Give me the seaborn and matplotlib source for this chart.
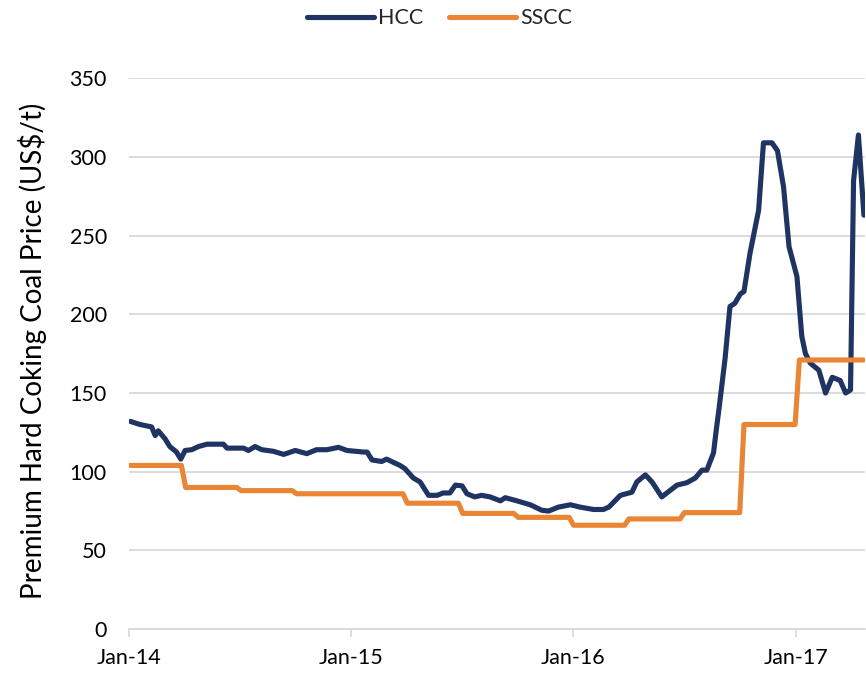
import matplotlib
matplotlib.use("Agg")
import matplotlib.pyplot as plt
import seaborn as sns
import pandas as pd

# ---- data ----
hcc_dates = [
    "2014-01-03", "2014-01-19", "2014-02-07", "2014-02-13", "2014-02-18", "2014-03-01",
    "2014-03-09", "2014-03-20", "2014-03-27", "2014-04-03", "2014-04-14", "2014-04-25",
    "2014-05-09", "2014-06-05", "2014-06-11", "2014-07-08", "2014-07-16", "2014-07-27",
    "2014-08-07", "2014-08-26", "2014-09-12", "2014-10-01", "2014-10-20", "2014-11-05",
    "2014-11-22", "2014-12-11", "2014-12-25", "2015-01-21", "2015-01-27", "2015-02-04",
    "2015-02-20", "2015-02-28", "2015-03-22", "2015-03-30", "2015-04-13", "2015-04-24",
    "2015-05-08", "2015-05-22", "2015-06-01", "2015-06-12", "2015-06-21", "2015-07-02",
    "2015-07-10", "2015-07-23", "2015-08-03", "2015-08-17", "2015-09-03", "2015-09-11",
    "2015-09-30", "2015-10-22", "2015-11-10", "2015-11-21", "2015-12-07", "2015-12-27",
    "2016-01-12", "2016-02-03", "2016-02-19", "2016-02-28", "2016-03-18", "2016-04-06",
    "2016-04-14", "2016-04-28", "2016-05-09", "2016-05-25", "2016-06-19", "2016-07-05",
    "2016-07-19", "2016-07-30", "2016-08-07", "2016-08-18", "2016-08-22", "2016-08-27",
    "2016-09-06", "2016-09-14", "2016-09-22", "2016-10-01", "2016-10-07", "2016-10-17",
    "2016-10-31", "2016-11-08", "2016-11-22", "2016-12-01", "2016-12-11", "2016-12-20",
    "2017-01-02", "2017-01-10", "2017-01-16", "2017-01-24", "2017-02-07", "2017-02-18",
    "2017-03-01", "2017-03-14", "2017-03-23", "2017-03-31", "2017-04-05", "2017-04-13",
    "2017-04-22",
]
hcc_values = [
    132, 130, 128.5, 123, 126, 121,
    116, 112.5, 108, 113.5, 114, 116,
    117.5, 117.5, 115, 115, 113.5, 116,
    114, 113, 111, 113.5, 111.5, 114,
    114, 115.5, 113.5, 112.5, 112.5, 107.5,
    106.5, 108, 104, 102, 96, 93.5,
    85, 85, 86.5, 86.5, 91.5, 91,
    86, 84, 85, 84, 81.5, 83.5,
    81.5, 79, 75.5, 75, 77.5, 79,
    77.5, 76, 76, 77.5, 85, 87,
    93.5, 98, 93.5, 84, 91.5, 93,
    96, 101, 101, 112, 125, 140,
    172, 205, 207, 213, 214.5, 239,
    266, 309, 309, 304, 281, 243,
    224, 186, 175, 169, 164.5, 150,
    160, 158, 150, 152, 285, 314,
    263,
]

# SSCC quarterly settlement values (US$/t)
sscc_quarters = ["2014Q1", "2014Q2", "2014Q3", "2014Q4",
                 "2015Q1", "2015Q2", "2015Q3", "2015Q4",
                 "2016Q1", "2016Q2", "2016Q3", "2016Q4",
                 "2017Q1", "2017Q2"]
sscc_values = [104, 90, 88, 86,
               86, 80, 73.5, 71,
               66, 70, 74, 130,
               171, 171]

x_ticks = ["2014-01-01", "2015-01-01", "2016-01-01", "2017-01-01"]
x_tick_labels = ["Jan-14", "Jan-15", "Jan-16", "Jan-17"]
y_ticks = [0, 50, 100, 150, 200, 250, 300, 350]

# ---- build frames ----
hcc_df = pd.DataFrame({"date": pd.to_datetime(hcc_dates), "price": hcc_values,
                       "series": "HCC"})
weeks = pd.date_range("2014-01-03", "2017-04-21", freq="W-FRI")
q_map = dict(zip(sscc_quarters, sscc_values))
sscc_df = pd.DataFrame({"date": weeks,
                        "price": [q_map[str(p)] for p in weeks.to_period("Q")],
                        "series": "SSCC"})
df = pd.concat([hcc_df, sscc_df], ignore_index=True)

# ---- plot ----
sns.set_theme(style="white")
plt.rcParams["font.family"] = ["Lato", "DejaVu Sans"]

fig = plt.figure(figsize=(8.66, 6.75), dpi=100)
ax = fig.add_axes([0.149, 0.068, 0.850, 0.816])

navy = "#1f3462"
orange = "#ea8535"
sns.lineplot(data=df, x="date", y="price", hue="series", hue_order=["HCC", "SSCC"],
             palette={"HCC": navy, "SSCC": orange}, linewidth=3.7, ax=ax,
             estimator=None, sort=True)
for line in ax.lines:
    line.set_solid_joinstyle("round")
    line.set_solid_capstyle("round")

ax.set_ylim(0, 350)
ax.set_yticks(y_ticks)
ax.set_xlim(pd.Timestamp("2014-01-01"), pd.Timestamp("2017-04-24"))
ax.set_xticks(pd.to_datetime(x_ticks))
ax.set_xticklabels(x_tick_labels)

ax.grid(axis="y", color="#d9d9d9", linewidth=1.3)
ax.grid(axis="x", visible=False)
ax.set_axisbelow(True)
for s in ["top", "right", "left"]:
    ax.spines[s].set_visible(False)
ax.spines["bottom"].set_color("#d9d9d9")
ax.spines["bottom"].set_linewidth(1.3)

ax.tick_params(axis="y", length=0, pad=16, labelsize=15.5, labelcolor="black")
ax.tick_params(axis="x", bottom=True, length=5.5, width=1.2, color="#d9d9d9",
               pad=8, labelsize=15.5, labelcolor="black")

ax.set_xlabel("")
ax.set_ylabel("Premium Hard Coking Coal Price (US$/t)", fontsize=20, color="black")
ax.yaxis.set_label_coords(-0.112, 0.505)

handles, labels = ax.get_legend_handles_labels()
ax.legend(handles, labels, loc="center", bbox_to_anchor=(0.508, 0.973),
          bbox_transform=fig.transFigure, ncol=2, frameon=False, fontsize=15.5,
          handlelength=3.1, handletextpad=0.2, columnspacing=1.2)

fig.savefig("out.png", dpi=100)
